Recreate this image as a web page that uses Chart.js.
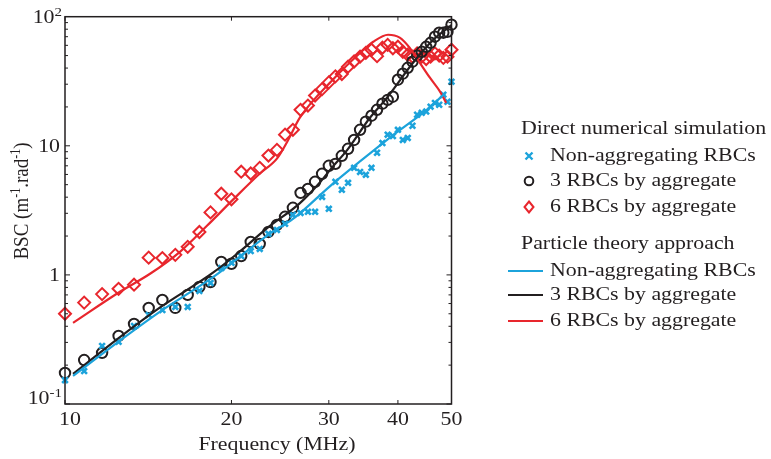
<!DOCTYPE html>
<html>
<head>
<meta charset="utf-8">
<script src="https://cdn.jsdelivr.net/npm/chart.js@4.4.1/dist/chart.umd.min.js"></script>
<style>
  body { margin: 0; background: #fff; }
  #wrap { position: relative; width: 771px; height: 459px; }
  .lg { position: absolute; font-family: "Liberation Serif", serif; font-size: 19px; color: #231f20;
        white-space: nowrap; line-height: 19px; transform-origin: 0 0; transform: scaleX(1.15); }
  .mk { position: absolute; }
</style>
</head>
<body>
<div id="wrap">
  <canvas id="chart" width="771" height="459"></canvas>
  <div id="legend"></div>
</div>
<script>
// simulated frequencies (MHz)
const freq = [10, 10.83, 11.67, 12.5, 13.33, 14.17, 15, 15.83, 16.67, 17.5, 18.33, 19.17, 20, 20.83, 21.67, 22.5, 23.33, 24.17, 25, 25.83,
  26.67, 27.5, 28.33, 29.17, 30, 30.83, 31.67, 32.5, 33.33, 34.17, 35, 35.83, 36.67, 37.5, 38.33, 39.17, 40, 40.83, 41.67, 42.5,
  43.33, 44.17, 45, 45.83, 46.67, 47.5, 48.33, 49.17, 50];

// direct numerical simulation (BSC, m-1.rad-1)
const simNonAgg = [0.153, 0.180, 0.282, 0.303, 0.402, 0.490, 0.535, 0.565, 0.565, 0.751, 0.867, 1.13, 1.24, 1.40, 1.53, 1.59, 2.08, 2.23, 2.49, 2.92,
  3.02, 3.08, 3.08, 4.02, 3.25, 5.26, 4.56, 5.17, 6.75, 6.28, 5.96, 6.75, 8.83, 10.5, 12.2, 11.9, 13.3, 11.1, 11.5, 14.3,
  17.4, 18.0, 18.4, 20.1, 21.5, 20.8, 24.9, 21.9, 31.4];
const sim3 = [0.174, 0.219, 0.249, 0.337, 0.417, 0.555, 0.640, 0.555, 0.700, 0.807, 0.88, 1.26, 1.22, 1.40, 1.80, 1.74, 2.15, 2.44, 2.82, 3.31,
  4.32, 4.64, 5.26, 6.07, 7.0, 7.25, 8.37, 9.48, 11.1, 13.3, 15.4, 17.1, 19.0, 21.2, 22.7, 24.0, 32.5, 36.2, 40.2, 44.8,
  49.9, 53.5, 58.5, 62.8, 70.0, 75.2, 75.2, 76.5, 86.7];
const sim6 = [0.50, 0.61, 0.71, 0.78, 0.84, 1.36, 1.35, 1.43, 1.65, 2.15, 3.05, 4.25, 3.85, 6.3, 6.1, 6.75, 8.4, 9.3, 12.2, 13.3,
  19.0, 20.5, 24.5, 27.5, 31.0, 34.5, 36.0, 41.0, 45.0, 49.0, 52.5, 55.5, 49.5, 57.5, 60.5, 57.0, 58.5, 53.5, 50.7, 49.0,
  52, 49, 47, 49, 52, 50, 48, 49, 55.5];

// particle theory approach
const thNonAggF = [10.34, 12.57, 14.86, 18.52, 23.5, 25.8, 30.2, 34.2, 39.1, 45.1, 48.7];
const thNonAgg  = [0.165, 0.31, 0.52, 0.96, 2.1, 2.7, 4.9, 7.6, 12.0, 19.0, 25.5];
const th3F = [10.34, 12.57, 14.86, 18.52, 20.72, 23.2, 26.6, 28.9, 30.5, 32.4, 35.6, 38.2, 42.6, 46.3, 50.0];
const th3  = [0.171, 0.33, 0.56, 1.04, 1.52, 2.3, 3.6, 5.2, 6.9, 9.3, 16.5, 23.5, 44, 66, 86];
const th6F = [10.34, 12.57, 14.25, 16.14, 18.06, 20.11, 22.51, 24.19, 25.3, 26.59, 30.5, 34.2, 36.1, 38.4, 40.3, 42.0, 43.8, 45.7, 47.7, 48.9];
const th6  = [0.425, 0.74, 1.02, 1.51, 2.40, 3.81, 6.1, 8.0, 11.0, 16.5, 32.5, 52.6, 64.0, 72.5, 68.8, 57.5, 44.1, 33.7, 26.2, 21.5];

const xTicks = [10, 20, 30, 40, 50];
const yTicks = [0.1, 1, 10, 100];
const yTickLabels = [['10', '-1'], ['1', ''], ['10', ''], ['10', '2']];

const BLUE = '#1ca3db';
const BLACK = '#231f20';
const RED = '#e8262d';
const STRETCH = 1.15;
const FONT = '"Liberation Serif", serif';

function pts(xs, ys) {
  return xs.map((x, i) => ({ x: x, y: ys[i] }));
}

function sText(ctx, txt, x, y, size, align) {
  ctx.save();
  ctx.font = size + 'px ' + FONT;
  ctx.translate(x, y);
  ctx.scale(STRETCH, 1);
  ctx.textAlign = align || 'left';
  ctx.fillText(txt, 0, 0);
  ctx.restore();
}
function sWidth(ctx, txt, size) {
  ctx.font = size + 'px ' + FONT;
  return ctx.measureText(txt).width * STRETCH;
}

// frame, inward ticks, tick labels and titles
const axesPlugin = {
  id: 'axesPlugin',
  afterDatasetsDraw(chart) {
    const ctx = chart.ctx;
    const a = chart.chartArea;
    const xs = chart.scales.x, ys = chart.scales.y;
    ctx.save();
    ctx.strokeStyle = BLACK;
    ctx.fillStyle = BLACK;
    ctx.lineWidth = 1.5;
    ctx.strokeRect(a.left, a.top, a.right - a.left, a.bottom - a.top);

    ctx.lineWidth = 1;
    ctx.beginPath();
    xTicks.forEach(v => {
      const p = xs.getPixelForValue(v);
      ctx.moveTo(p, a.bottom); ctx.lineTo(p, a.bottom - 4);
      ctx.moveTo(p, a.top); ctx.lineTo(p, a.top + 4);
    });
    [0.1, 1, 10].forEach(d => {
      for (let m = 1; m <= 9; m++) {
        const p = ys.getPixelForValue(d * m);
        const len = m === 1 ? 5 : 3;
        ctx.moveTo(a.left, p); ctx.lineTo(a.left + len, p);
        ctx.moveTo(a.right, p); ctx.lineTo(a.right - len, p);
      }
    });
    ctx.stroke();

    ctx.textBaseline = 'alphabetic';
    xTicks.forEach((v, i) => {
      let p = xs.getPixelForValue(v);
      if (i === 0) p += 5;
      sText(ctx, String(v), p, 425, 19, 'center');
    });

    yTicks.forEach((v, i) => {
      let p = ys.getPixelForValue(v);
      if (i === 0) p -= 7;
      const base = yTickLabels[i][0], sup = yTickLabels[i][1];
      const wb = sWidth(ctx, base, 19);
      const wsu = sup ? sWidth(ctx, sup, 13) : 0;
      const right = sup ? 62 : 60;
      sText(ctx, base, right - wsu - wb, p + 6.5, 19, 'left');
      if (sup) sText(ctx, sup, right - wsu, p - 0.5, 13, 'left');
    });

    sText(ctx, 'Frequency (MHz)', 277, 450, 19, 'center');

    // rotated y title with superscripts
    const parts = [['BSC (m', 19, 0], ['-1', 12, -7], ['.rad', 19, 0], ['-1', 12, -7], [')', 19, 0]];
    let total = 0;
    parts.forEach(pp => { ctx.font = pp[1] + 'px ' + FONT; total += ctx.measureText(pp[0]).width; });
    ctx.save();
    ctx.translate(28, 201);
    ctx.rotate(-Math.PI / 2);
    ctx.scale(1, STRETCH);
    let cx = -total / 2;
    parts.forEach(pp => {
      ctx.font = pp[1] + 'px ' + FONT;
      ctx.fillText(pp[0], cx, pp[2]);
      cx += ctx.measureText(pp[0]).width;
    });
    ctx.restore();
    ctx.restore();
  }
};

new Chart(document.getElementById('chart'), {
  type: 'scatter',
  data: {
    datasets: [
      { label: 'Non-aggregating RBCs (theory)', data: pts(thNonAggF, thNonAgg), showLine: true, pointRadius: 0,
        borderColor: BLUE, borderWidth: 2.2, cubicInterpolationMode: 'monotone', order: 0 },
      { label: '3 RBCs by aggregate (theory)', data: pts(th3F, th3), showLine: true, pointRadius: 0,
        borderColor: BLACK, borderWidth: 2.2, cubicInterpolationMode: 'monotone', order: 0 },
      { label: '6 RBCs by aggregate (theory)', data: pts(th6F, th6), showLine: true, pointRadius: 0,
        borderColor: RED, borderWidth: 2.2, cubicInterpolationMode: 'monotone', order: 0 },
      { label: 'Non-aggregating RBCs', data: pts(freq, simNonAgg), pointStyle: 'crossRot', pointRadius: 4,
        borderColor: BLUE, borderWidth: 2.6, clip: 10, order: 1 },
      { label: '3 RBCs by aggregate', data: pts(freq, sim3), pointStyle: 'circle', pointRadius: 5.2,
        borderColor: BLACK, backgroundColor: 'rgba(0,0,0,0)', borderWidth: 2, clip: 10, order: 1 },
      { label: '6 RBCs by aggregate', data: pts(freq, sim6), pointStyle: 'rectRot', pointRadius: 6,
        borderColor: RED, backgroundColor: 'rgba(0,0,0,0)', borderWidth: 2, clip: 10, order: 1 }
    ]
  },
  options: {
    responsive: false,
    animation: false,
    layout: { padding: { left: 65, right: 319.5, top: 16.7, bottom: 55 } },
    plugins: { legend: { display: false }, tooltip: { enabled: false } },
    scales: {
      x: { type: 'logarithmic', min: 10, max: 50, display: false },
      y: { type: 'logarithmic', min: 0.1, max: 100, display: false }
    }
  },
  plugins: [axesPlugin]
});

// legend
const legendRows = [
  { text: 'Direct numerical simulation', x: 521, y: 118 },
  { text: 'Non-aggregating RBCs', x: 550, y: 145, mark: 'cross' },
  { text: '3 RBCs by aggregate', x: 550, y: 170, mark: 'circle' },
  { text: '6 RBCs by aggregate', x: 550, y: 196, mark: 'diamond' },
  { text: 'Particle theory approach', x: 521, y: 233 },
  { text: 'Non-aggregating RBCs', x: 550, y: 260, mark: 'line', color: BLUE },
  { text: '3 RBCs by aggregate', x: 550, y: 284, mark: 'line', color: BLACK },
  { text: '6 RBCs by aggregate', x: 550, y: 310, mark: 'line', color: RED }
];
const lg = document.getElementById('legend');
legendRows.forEach(r => {
  const t = document.createElement('div');
  t.className = 'lg';
  t.style.left = r.x + 'px';
  t.style.top = r.y + 'px';
  t.textContent = r.text;
  lg.appendChild(t);
  if (!r.mark) return;
  const cy = r.y + 11;
  let svg = '';
  if (r.mark === 'cross') {
    svg = `<svg class="mk" style="left:524px;top:${cy - 5}px" width="10" height="10"><path d="M1.5 1.5L8.5 8.5M8.5 1.5L1.5 8.5" stroke="${BLUE}" stroke-width="2.4"/></svg>`;
  } else if (r.mark === 'circle') {
    svg = `<svg class="mk" style="left:523px;top:${cy - 6}px" width="12" height="12"><circle cx="6" cy="6" r="4.3" fill="none" stroke="${BLACK}" stroke-width="2"/></svg>`;
  } else if (r.mark === 'diamond') {
    svg = `<svg class="mk" style="left:522px;top:${cy - 7}px" width="14" height="14"><path d="M7 1.5L11.5 7L7 12.5L2.5 7Z" fill="none" stroke="${RED}" stroke-width="2"/></svg>`;
  } else {
    svg = `<svg class="mk" style="left:508px;top:${cy - 2}px" width="36" height="4"><line x1="0" y1="2" x2="35" y2="2" stroke="${r.color}" stroke-width="2.2"/></svg>`;
  }
  lg.insertAdjacentHTML('beforeend', svg);
});
</script>
</body>
</html>
